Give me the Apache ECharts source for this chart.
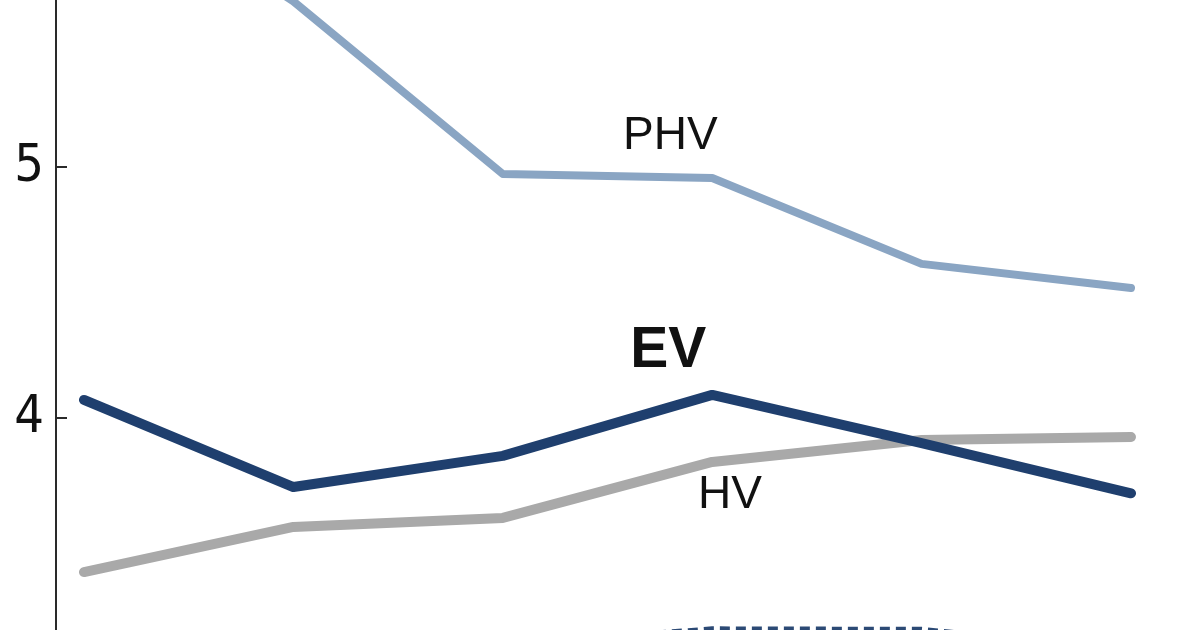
<!DOCTYPE html>
<html><head><meta charset="utf-8">
<script src="https://cdn.jsdelivr.net/npm/echarts@6/dist/echarts.min.js"></script>
<style>html,body{margin:0;padding:0;background:#fff}#c{width:1200px;height:630px}</style>
</head><body><div id="c"></div>
<script>
var categories = [0, 1, 2, 3, 4, 5];
var phv = [6.2, 5.66, 4.972, 4.956, 4.614, 4.518];
var ev = [4.072, 3.725, 3.849, 4.092, 3.900, 3.700];
var hv = [3.386, 3.566, 3.602, 3.825, 3.912, 3.924];
var other = [2.9, 2.95, 3.096, 3.158, 3.156, 3.075];
var yTicks = [3, 4, 5, 6];

function pairs(vals){ return categories.map(function(c,i){ return [c, vals[i]]; }); }
function textMark(x, y, txt, size, weight){
  return { symbol: 'circle', symbolSize: 1, itemStyle: { color: 'rgba(0,0,0,0)' },
    data: [{ coord: [x, y], label: { show: true, position: 'inside', formatter: txt, fontSize: size, fontWeight: weight, color: '#111', fontFamily: '"Liberation Sans",Arial,sans-serif' } }] };
}

var chart = echarts.init(document.getElementById('c'));
chart.setOption({
  animation: false,
  backgroundColor: '#ffffff',
  grid: { left: 56, right: 69, top: -84, bottom: -39, containLabel: false, outerBoundsMode: 'none' },
  xAxis: { type: 'value', min: -0.1337, max: 5, show: false },
  yAxis: {
    type: 'value', min: yTicks[0], max: yTicks[yTicks.length-1], interval: 1,
    splitLine: { show: false },
    axisLine: { show: true, onZero: false, lineStyle: { color: '#2a2a2a', width: 2 } },
    axisTick: { show: true, inside: true, length: 11, lineStyle: { color: '#2a2a2a', width: 2 } },
    axisLabel: { color: '#111', fontSize: 52, fontFamily: '"DejaVu Sans Condensed","Liberation Sans Narrow",sans-serif', margin: 12 }
  },
  series: [
    { name: 'other', type: 'line', data: pairs(other), symbol: 'none',
      lineStyle: { color: '#2c4a75', width: 6, type: [10, 6] } },
    { name: 'HV', type: 'line', data: pairs(hv), symbol: 'none',
      lineStyle: { color: '#a9a9a9', width: 10, cap: 'round', join: 'round' },
      markPoint: textMark(3.085, 3.693, 'HV', 46, 'normal') },
    { name: 'PHV', type: 'line', data: pairs(phv), symbol: 'none',
      lineStyle: { color: '#8aa5c3', width: 8, cap: 'round', join: 'round' },
      markPoint: textMark(2.80, 5.124, 'PHV', 46, 'normal') },
    { name: 'EV', type: 'line', data: pairs(ev), symbol: 'none',
      lineStyle: { color: '#1f3f6e', width: 10, cap: 'round', join: 'round' },
      markPoint: textMark(2.79, 4.265, 'EV', 57, 'bold') }
  ]
});
</script></body></html>
